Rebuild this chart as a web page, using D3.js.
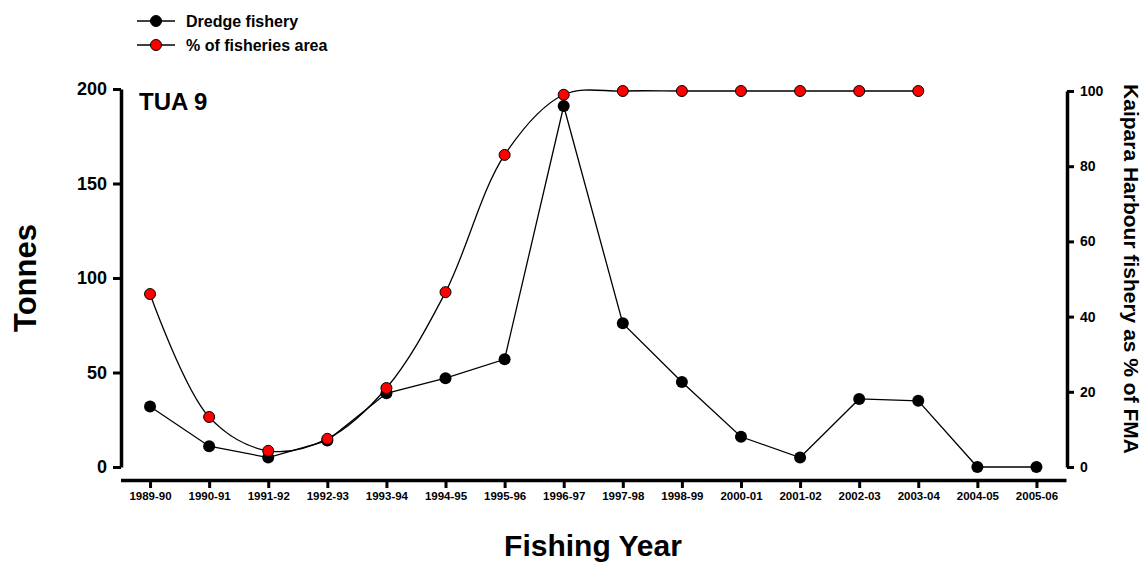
<!DOCTYPE html>
<meta charset="utf-8">
<style>
body { margin: 0; background: #fff; }
text { font-family: "Liberation Sans", Arial, sans-serif; font-weight: bold; fill: #000; }
.axis path, .axis line { stroke: #000; }
.axis .domain { stroke-width: 3.5px; }
.axis .tick line { stroke-width: 3px; }
</style>
<body>
<script src="https://d3js.org/d3.v7.min.js"></script>
<script>

var years = ["1989-90", "1990-91", "1991-92", "1992-93", "1993-94", "1994-95", "1995-96", "1996-97",
             "1997-98", "1998-99", "2000-01", "2001-02", "2002-03", "2003-04", "2004-05", "2005-06"];
var dredge = [32, 11, 5, 14, 39, 47, 57, 191, 76, 45, 16, 5, 36, 35, 0, 0];
var pctArea = [46, 13.3, 4.3, 7.5, 21, 46.5, 83, 99, 100, 100, 100, 100, 100, 100, null, null];
var leftTicks = [0, 50, 100, 150, 200];
var rightTicks = [0, 20, 40, 60, 80, 100];

var width = 1146,
    height = 566;

var svg = d3.select("body").append("svg")
    .attr("width", width)
    .attr("height", height);

var x = d3.scaleLinear().domain([-0.5, years.length - 0.5]).range([120.5, 1066]);
var yL = d3.scaleLinear().domain([0, 200]).range([467, 89]);
var yR = d3.scaleLinear().domain([0, 100]).range([467, 91]);

// x axis, offset below the plot
var xAxis = svg.append("g")
    .attr("class", "axis")
    .attr("transform", "translate(0,480)")
    .call(d3.axisBottom(x).tickValues(d3.range(years.length))
      .tickFormat(function(i) { return years[i]; }).tickSize(8).tickPadding(4).tickSizeOuter(0));
xAxis.selectAll(".tick text").style("font-size", "11.5px");

var lAxis = svg.append("g")
    .attr("class", "axis")
    .attr("transform", "translate(121,0)")
    .call(d3.axisLeft(yL).tickValues(leftTicks).tickSize(8).tickPadding(6).tickSizeOuter(0));
lAxis.selectAll(".tick text").style("font-size", "18px");

var rAxis = svg.append("g")
    .attr("class", "axis")
    .attr("transform", "translate(1067,0)")
    .call(d3.axisRight(yR).tickValues(rightTicks).tickSize(7).tickPadding(6).tickSizeOuter(0));
rAxis.selectAll(".tick text").style("font-size", "14px");

// titles
svg.append("text")
    .attr("transform", "translate(36,278) rotate(-90)")
    .attr("text-anchor", "middle")
    .style("font-size", "31px")
    .text("Tonnes");

svg.append("text")
    .attr("x", 593).attr("y", 556)
    .attr("text-anchor", "middle")
    .style("font-size", "30px")
    .text("Fishing Year");

svg.append("text")
    .attr("transform", "translate(1124,269) rotate(90)")
    .attr("text-anchor", "middle")
    .style("font-size", "21px")
    .text("Kaipara Harbour fishery as % of FMA");

svg.append("text")
    .attr("x", 139).attr("y", 110)
    .style("font-size", "24px")
    .text("TUA 9");

// dredge fishery line
var lineL = d3.line()
    .x(function(d, i) { return x(i); })
    .y(function(d) { return yL(d); });

svg.append("path")
    .datum(dredge)
    .attr("fill", "none")
    .attr("stroke", "#000")
    .attr("stroke-width", 1.3)
    .attr("d", lineL);

// percent of area, smoothed
var pctPts = pctArea.map(function(v, i) { return [i, v]; }).filter(function(d) { return d[1] != null; });

var lineR = d3.line()
    .curve(d3.curveCatmullRom)
    .x(function(d) { return x(d[0]); })
    .y(function(d) { return yR(d[1]); });

svg.append("path")
    .datum(pctPts)
    .attr("fill", "none")
    .attr("stroke", "#000")
    .attr("stroke-width", 1.3)
    .attr("d", lineR);

svg.append("g").selectAll("circle")
    .data(dredge).enter().append("circle")
    .attr("cx", function(d, i) { return x(i); })
    .attr("cy", function(d) { return yL(d); })
    .attr("r", 6)
    .attr("fill", "#000");

svg.append("g").selectAll("circle")
    .data(pctPts).enter().append("circle")
    .attr("cx", function(d) { return x(d[0]); })
    .attr("cy", function(d) { return yR(d[1]); })
    .attr("r", 5.5)
    .attr("fill", "#ff0000")
    .attr("stroke", "#000")
    .attr("stroke-width", 1);

// legend
var legend = [
  {label: "Dredge fishery", fill: "#000"},
  {label: "% of fisheries area", fill: "#ff0000"}
];
var lg = svg.append("g").selectAll("g")
    .data(legend).enter().append("g")
    .attr("transform", function(d, i) { return "translate(0," + (21 + i * 24) + ")"; });
lg.append("line")
    .attr("x1", 137).attr("x2", 175)
    .attr("stroke", "#000").attr("stroke-width", 1.3);
lg.append("circle")
    .attr("cx", 156).attr("r", 5.5)
    .attr("fill", function(d) { return d.fill; })
    .attr("stroke", "#000").attr("stroke-width", 1);
lg.append("text")
    .attr("x", 186).attr("y", 6)
    .style("font-size", "16px")
    .text(function(d) { return d.label; });

</script>
